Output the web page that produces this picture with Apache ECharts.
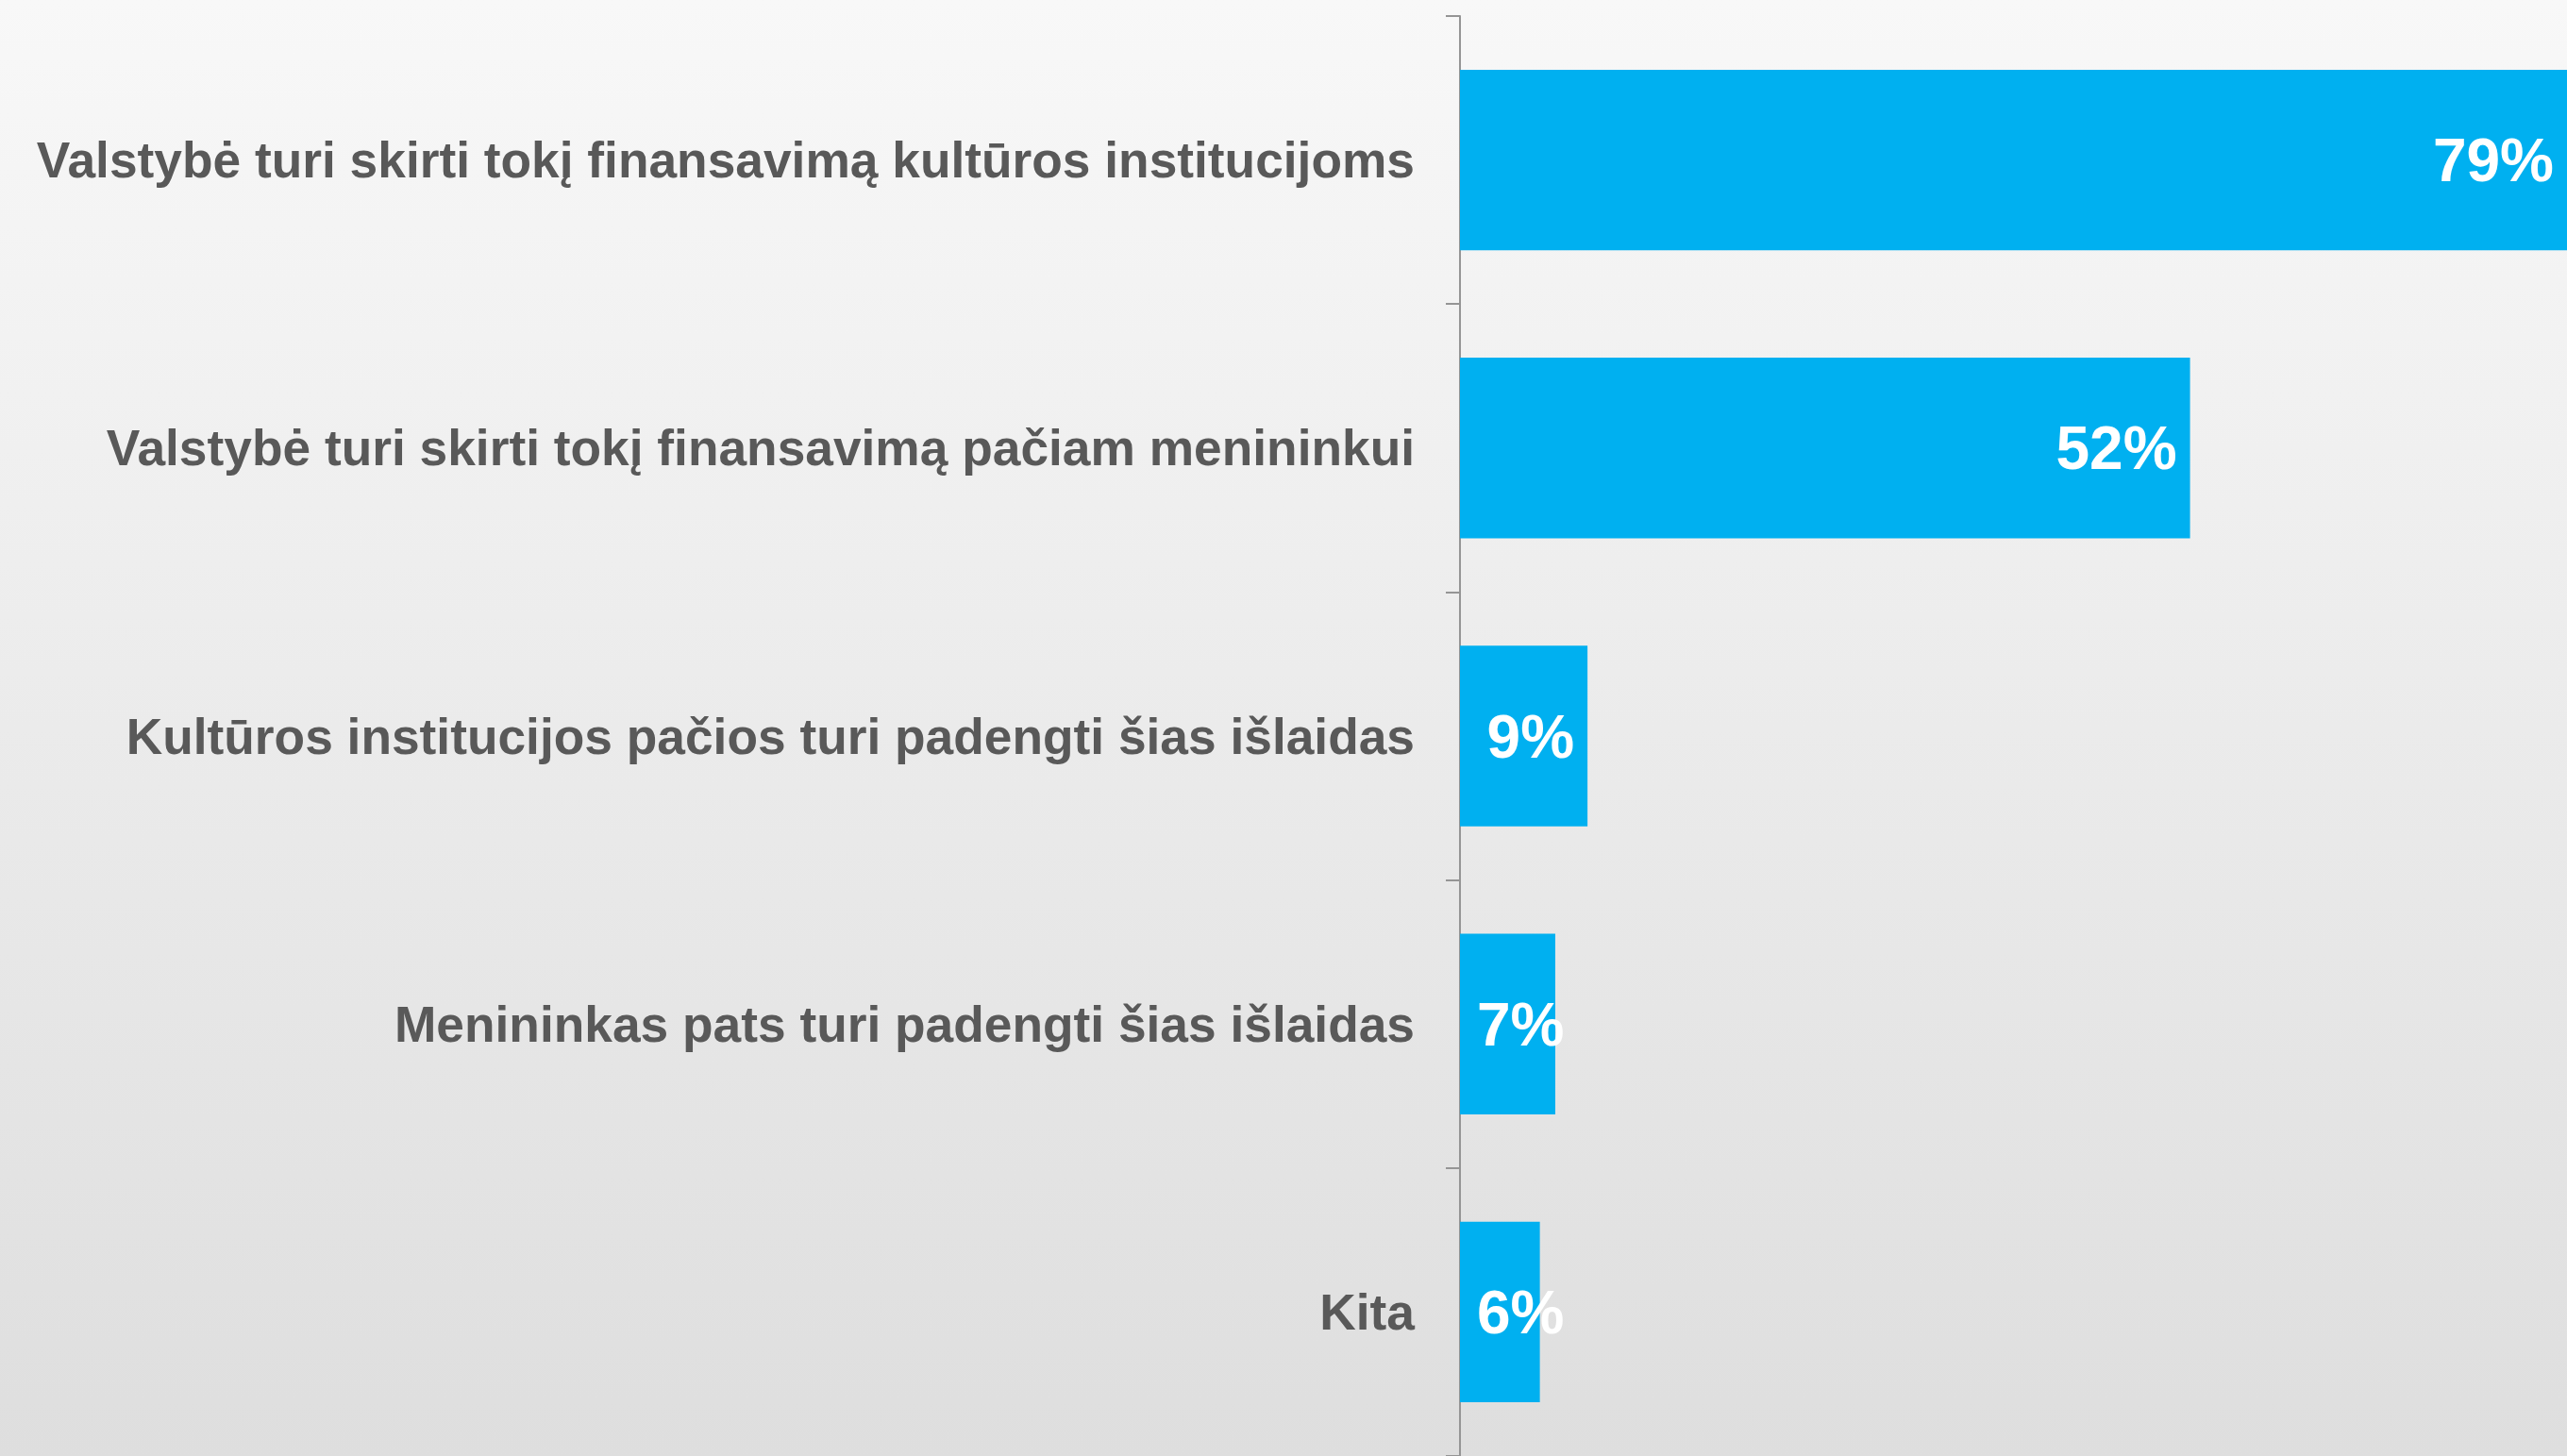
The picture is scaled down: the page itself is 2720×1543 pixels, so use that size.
<!DOCTYPE html>
<html>
<head>
<meta charset="utf-8">
<script src="https://cdn.jsdelivr.net/npm/echarts@6/dist/echarts.min.js"></script>
<style>
  html, body { margin: 0; padding: 0; }
  #chart { width: 2720px; height: 1543px; }
</style>
</head>
<body>
<div id="chart"></div>
<script>
// categories top -> bottom
var categories = [
  'Valstybė turi skirti tokį finansavimą kultūros institucijoms',
  'Valstybė turi skirti tokį finansavimą pačiam menininkui',
  'Kultūros institucijos pačios turi padengti šias išlaidas',
  'Menininkas pats turi padengti šias išlaidas',
  'Kita'
]
var values = [79, 52.1, 9.1, 6.8, 5.7]

var chartDom = document.getElementById('chart')
var myChart = echarts.init(chartDom)

// small bars: label starts from the axis instead of the bar end
var seriesData = values.map(function (v) {
  var small = v < 8
  return {
    value: v,
    label: {
      position: small ? 'insideLeft' : 'insideRight',
      distance: small ? 18 : 14
    }
  }
})

var option = {
  backgroundColor: {
    type: 'linear', x: 0, y: 0, x2: 0, y2: 1,
    colorStops: [
      { offset: 0, color: '#f8f8f8' },
      { offset: 1, color: '#dedede' }
    ]
  },
  animation: false,
  grid: {
    left: 1547,
    right: 0,
    top: 17,
    bottom: 0,
    containLabel: false
  },
  xAxis: {
    type: 'value',
    min: 0,
    max: 79,
    show: false
  },
  yAxis: {
    type: 'category',
    inverse: true,
    data: categories,
    axisLine: { show: true, lineStyle: { color: '#959595', width: 2 } },
    axisTick: { show: true, length: 15, lineStyle: { color: '#959595', width: 2 } },
    axisLabel: {
      margin: 48,
      formatter: function (v) { return '{c|' + v + '}' },
      rich: {
        c: {
          color: '#595959',
          fontFamily: 'Liberation Sans, Arial',
          fontWeight: 'bold',
          fontSize: 53.3,
          padding: [8, 0, 0, 0]
        }
      }
    }
  },
  series: [
    {
      type: 'bar',
      data: seriesData,
      barWidth: '62.7%',
      itemStyle: { color: '#00b0f0' },
      label: {
        show: true,
        color: '#ffffff',
        fontFamily: 'Liberation Sans, Arial',
        fontWeight: 'bold',
        fontSize: 64,
        offset: [0, 5],
        formatter: function (p) { return Math.round(p.value) + '%' }
      }
    }
  ]
}

option && myChart.setOption(option)
</script>
</body>
</html>
